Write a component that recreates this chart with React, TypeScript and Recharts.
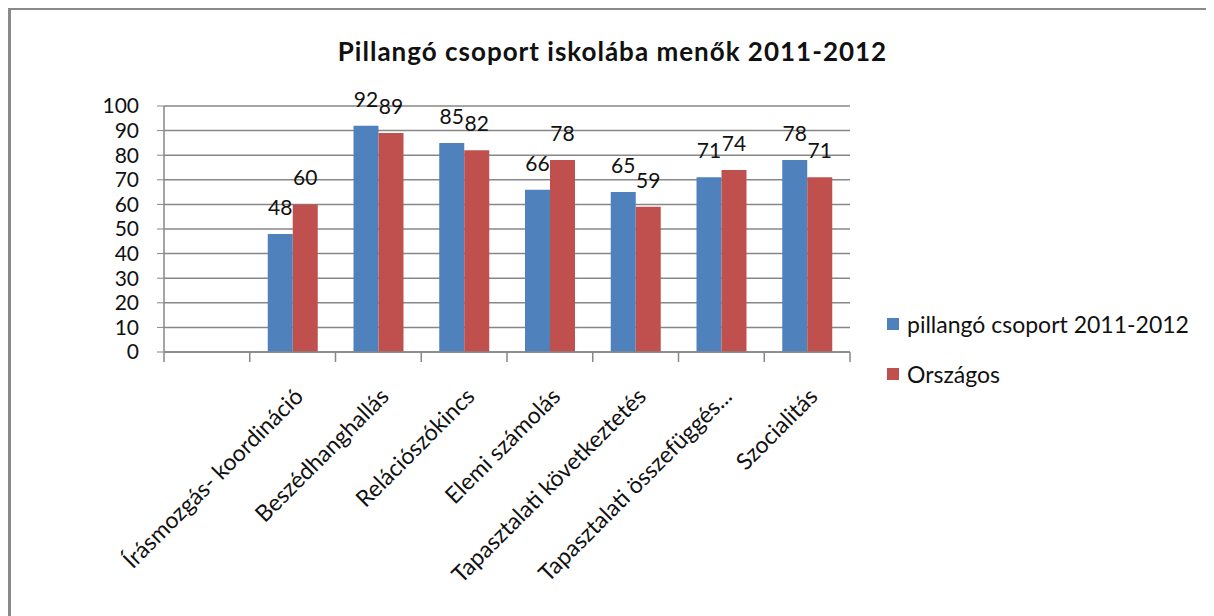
import { BarChart, Bar, XAxis, YAxis, CartesianGrid, LabelList } from 'recharts'

const kategoriak = [
  '',
  'Írásmozgás- koordináció',
  'Beszédhanghallás',
  'Relációszókincs',
  'Elemi számolás',
  'Tapasztalati következtetés',
  'Tapasztalati összefüggés...',
  'Szocialitás',
]
const pillangoErtekek: (number | null)[] = [null, 48, 92, 85, 66, 65, 71, 78]
const orszagosErtekek: (number | null)[] = [null, 60, 89, 82, 78, 59, 74, 71]
const yTicks = [0, 10, 20, 30, 40, 50, 60, 70, 80, 90, 100]

const adatok = kategoriak.map((k, i) => ({
  kategoria: k,
  pillango: pillangoErtekek[i],
  orszagos: orszagosErtekek[i],
}))

const FONT = 'Lato, "Open Sans", sans-serif'
const GRID = '#878787'

// Excel-szerű tengelyfelirat: ferde szöveg + osztásjel a kategóriák határán
function KategoriaTick(props: any) {
  const { x, y, payload, index } = props
  const half = payload?.offset ?? 43
  const last = index === kategoriak.length - 1
  const tx = x + 12
  const ty = y + 38
  return (
    <g>
      <line x1={x - half} y1={y - 8} x2={x - half} y2={y + 2} stroke={GRID} strokeWidth={1.5} />
      {last && <line x1={x + half} y1={y - 8} x2={x + half} y2={y + 2} stroke={GRID} strokeWidth={1.5} />}
      <text
        x={tx}
        y={ty}
        transform={`rotate(-45, ${tx}, ${ty})`}
        textAnchor="end"
        fontSize={23}
        fontFamily={FONT}
        fill="#111"
      >
        {payload.value}
      </text>
    </g>
  )
}

function Jelmagyarazat() {
  const elemek = [
    { nev: 'pillangó csoport 2011-2012', szin: '#4F81BD' },
    { nev: 'Országos', szin: '#C0504D' },
  ]
  return (
    <div style={{ position: 'absolute', left: 876, top: 289, fontFamily: FONT, fontSize: 23, color: '#111' }}>
      {elemek.map((e) => (
        <div key={e.nev} style={{ display: 'flex', alignItems: 'center', height: 50 }}>
          <span style={{ width: 12, height: 12, background: e.szin, marginRight: 8, display: 'inline-block' }} />
          <span>{e.nev}</span>
        </div>
      ))}
    </div>
  )
}

export default function App() {
  return (
    <div
      style={{
        width: 1206,
        height: 608,
        borderTop: '3px solid #8a8a8a',
        borderLeft: '3px solid #8a8a8a',
        background: '#fff',
        position: 'relative',
        marginTop: -1,
      }}
    >
      <div
        style={{
          position: 'absolute',
          left: 0,
          top: 25,
          width: 1203,
          textAlign: 'center',
          fontFamily: FONT,
          fontSize: 26,
          fontWeight: 700,
          letterSpacing: 1,
          color: '#111',
        }}
      >
        Pillangó csoport iskolába menők 2011-2012
      </div>
      <BarChart
        width={1203}
        height={605}
        data={adatok}
        margin={{ top: 96, right: 364, bottom: 13, left: 93 }}
        barGap={0}
        barSize={25}
      >
        <CartesianGrid vertical={false} stroke={GRID} strokeWidth={1.5} />
        <XAxis
          dataKey="kategoria"
          interval={0}
          height={250}
          tick={<KategoriaTick />}
          tickLine={false}
          axisLine={{ stroke: GRID, strokeWidth: 1.5 }}
        />
        <YAxis
          domain={[0, 100]}
          ticks={yTicks}
          interval={0}
          width={60}
          tickSize={7}
          tickMargin={18}
          tick={{ fontSize: 21, fontFamily: FONT, fill: '#111' }}
          tickLine={{ stroke: GRID }}
          axisLine={{ stroke: GRID, strokeWidth: 1.5 }}
        />
        <Bar dataKey="pillango" fill="#4F81BD" isAnimationActive={false}>
          <LabelList dataKey="pillango" position="top" offset={19} fontSize={21} fontFamily={FONT} fill="#111" />
        </Bar>
        <Bar dataKey="orszagos" fill="#C0504D" isAnimationActive={false}>
          <LabelList dataKey="orszagos" position="top" offset={19} fontSize={21} fontFamily={FONT} fill="#111" />
        </Bar>
      </BarChart>
      <Jelmagyarazat />
    </div>
  )
}
